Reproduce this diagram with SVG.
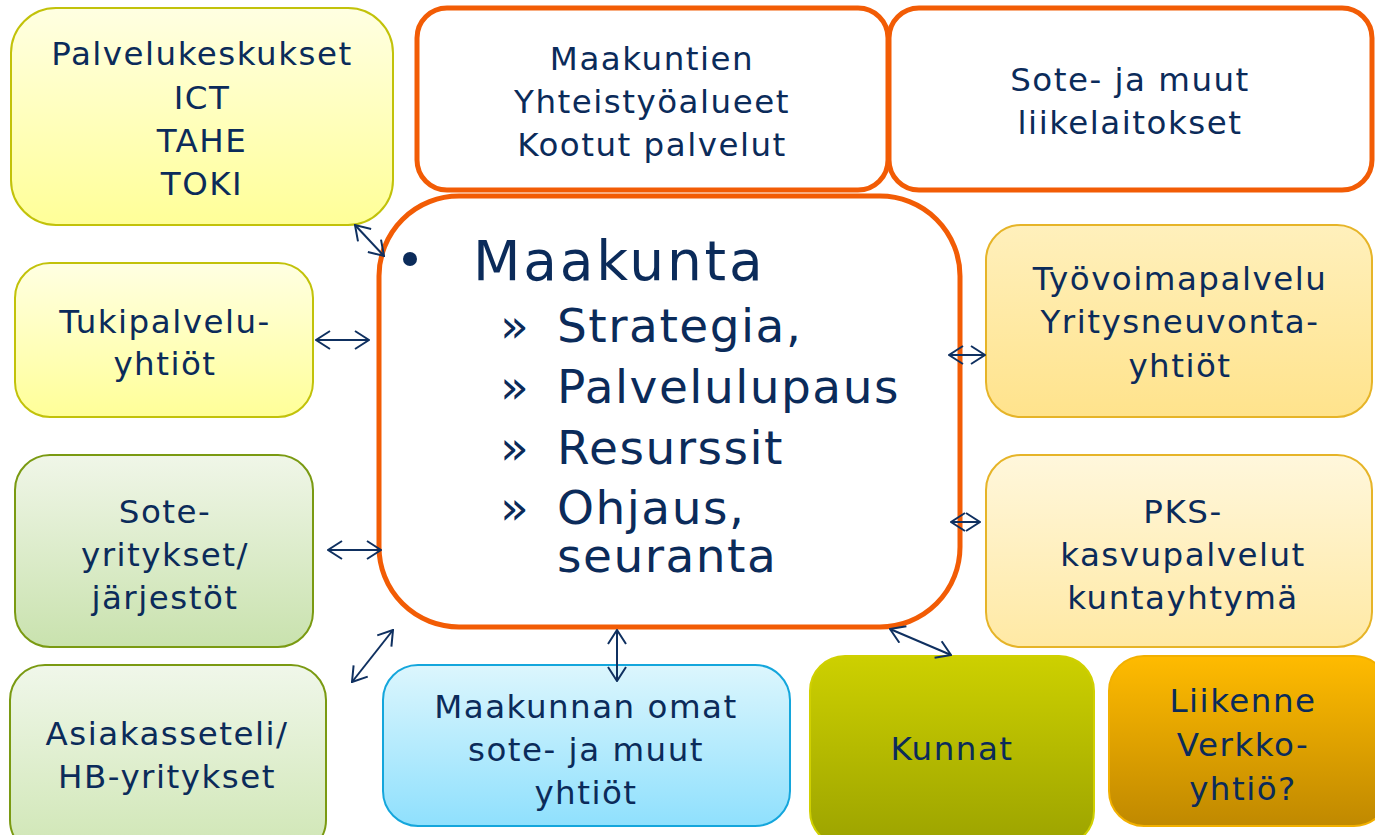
<svg xmlns="http://www.w3.org/2000/svg" width="1375" height="835" viewBox="0 0 1375 835">
<defs>
<linearGradient id="gY" x1="0" y1="0" x2="0" y2="1"><stop offset="0" stop-color="#ffffe2"/><stop offset="1" stop-color="#ffff98"/></linearGradient>
<linearGradient id="gO1" x1="0" y1="0" x2="0" y2="1"><stop offset="0" stop-color="#fff0bc"/><stop offset="1" stop-color="#ffe38c"/></linearGradient>
<linearGradient id="gO2" x1="0" y1="0" x2="0" y2="1"><stop offset="0" stop-color="#fff7dc"/><stop offset="1" stop-color="#ffe9a4"/></linearGradient>
<linearGradient id="gG1" x1="0" y1="0" x2="0" y2="1"><stop offset="0" stop-color="#f0f6e8"/><stop offset="1" stop-color="#c9e2ae"/></linearGradient>
<linearGradient id="gG2" x1="0" y1="0" x2="0" y2="1"><stop offset="0" stop-color="#f0f7ea"/><stop offset="1" stop-color="#cfe6b4"/></linearGradient>
<linearGradient id="gB" x1="0" y1="0" x2="0" y2="1"><stop offset="0" stop-color="#dcf6fd"/><stop offset="1" stop-color="#8fe0fd"/></linearGradient>
<linearGradient id="gK" x1="0" y1="0" x2="0" y2="1"><stop offset="0" stop-color="#cdd000"/><stop offset="1" stop-color="#9ca300"/></linearGradient>
<linearGradient id="gL" x1="0" y1="0" x2="0" y2="1"><stop offset="0" stop-color="#ffbb00"/><stop offset="1" stop-color="#c08900"/></linearGradient>
<marker id="ah" viewBox="0 0 16 20" refX="15" refY="10" markerWidth="16" markerHeight="20" markerUnits="userSpaceOnUse" orient="auto-start-reverse">
<path d="M1,1 L15,10 L1,19" fill="none" stroke="#0f3060" stroke-width="2"/>
</marker>
</defs>
<style>
text{font-family:"DejaVu Sans","Verdana",sans-serif;fill:#0b2b5a;text-anchor:middle;font-size:32.5px;letter-spacing:1.5px}
.c{font-size:47px;text-anchor:start;letter-spacing:1.5px}
.h{font-size:55px;text-anchor:start;letter-spacing:2.8px}
.org{fill:#ffffff;stroke:#f25c05;stroke-width:5}
.conn line{stroke:#0f3060;stroke-width:2;marker-start:url(#ah);marker-end:url(#ah)}
</style>
<rect width="1375" height="835" fill="#ffffff"/>

<g id="palvelukeskukset">
<rect x="11" y="8" width="382" height="217" rx="45" fill="url(#gY)" stroke="#c2c20a" stroke-width="2"/>
<text x="202" y="65">Palvelukeskukset</text>
<text x="202" y="109">ICT</text>
<text x="202" y="152">TAHE</text>
<text x="202" y="195">TOKI</text>
</g>

<g id="maakuntien">
<rect x="417" y="8" width="471" height="182" rx="30" class="org"/>
<text x="652" y="70">Maakuntien</text>
<text x="652" y="113">Yhteistyöalueet</text>
<text x="652" y="156">Kootut palvelut</text>
</g>

<g id="liikelaitokset">
<rect x="889" y="8" width="483" height="182" rx="30" class="org"/>
<text x="1130" y="91">Sote- ja muut</text>
<text x="1130" y="134">liikelaitokset</text>
</g>

<g id="maakunta">
<rect x="379" y="196" width="581" height="431" rx="80" class="org"/>
<circle cx="410" cy="259" r="7" fill="#0b2b5a"/>
<text class="h" x="473" y="280">Maakunta</text>
<text class="c" x="500" y="342">»</text><text class="c" x="557" y="342">Strategia,</text>
<text class="c" x="500" y="403">»</text><text class="c" x="557" y="403">Palvelulupaus</text>
<text class="c" x="500" y="464">»</text><text class="c" x="557" y="464">Resurssit</text>
<text class="c" x="500" y="524">»</text><text class="c" x="557" y="524">Ohjaus,</text>
<text class="c" x="557" y="572">seuranta</text>
</g>

<g id="tukipalvelu">
<rect x="15" y="263" width="298" height="154" rx="35" fill="url(#gY)" stroke="#c2c20a" stroke-width="2"/>
<text x="165" y="333">Tukipalvelu-</text>
<text x="165" y="375">yhtiöt</text>
</g>

<g id="tyovoimapalvelu">
<rect x="986" y="225" width="386" height="192" rx="35" fill="url(#gO1)" stroke="#e6b428" stroke-width="2"/>
<text x="1180" y="290">Työvoimapalvelu</text>
<text x="1180" y="333">Yritysneuvonta-</text>
<text x="1180" y="377">yhtiöt</text>
</g>

<g id="soteyritykset">
<rect x="15" y="455" width="298" height="192" rx="35" fill="url(#gG1)" stroke="#7a9a12" stroke-width="2"/>
<text x="165" y="523">Sote-</text>
<text x="165" y="566">yritykset/</text>
<text x="165" y="609">järjestöt</text>
</g>

<g id="pks">
<rect x="986" y="455" width="386" height="192" rx="35" fill="url(#gO2)" stroke="#e6b428" stroke-width="2"/>
<text x="1183" y="523">PKS-</text>
<text x="1183" y="566">kasvupalvelut</text>
<text x="1183" y="609">kuntayhtymä</text>
</g>

<g id="asiakasseteli">
<rect x="10" y="665" width="316" height="190" rx="35" fill="url(#gG2)" stroke="#7a9a12" stroke-width="2"/>
<text x="167" y="745">Asiakasseteli/</text>
<text x="167" y="788">HB-yritykset</text>
</g>

<g id="maakunnanomat">
<rect x="383" y="665" width="407" height="161" rx="35" fill="url(#gB)" stroke="#14a6dc" stroke-width="2"/>
<text x="586" y="718">Maakunnan omat</text>
<text x="586" y="761">sote- ja muut</text>
<text x="586" y="804">yhtiöt</text>
</g>

<g id="kunnat">
<rect x="810" y="656" width="284" height="190" rx="35" fill="url(#gK)" stroke="#d0d000" stroke-width="2"/>
<text x="952" y="760">Kunnat</text>
</g>

<g id="liikenne">
<rect x="1109" y="656" width="280" height="170" rx="35" fill="url(#gL)" stroke="#f2b000" stroke-width="2"/>
<text x="1243" y="712">Liikenne</text>
<text x="1243" y="756">Verkko-</text>
<text x="1243" y="800">yhtiö?</text>
</g>

<g id="connectors" class="conn">
<line x1="355" y1="225" x2="384" y2="256"/>
<line x1="316" y1="340" x2="369" y2="340"/>
<line x1="328" y1="550" x2="381" y2="550"/>
<line x1="352" y1="682" x2="393" y2="630"/>
<line x1="617" y1="630" x2="617" y2="681"/>
<line x1="890" y1="629" x2="951" y2="655"/>
<line x1="949" y1="355" x2="985" y2="355"/>
<line x1="951" y1="522" x2="980" y2="522"/>
</g>
</svg>
